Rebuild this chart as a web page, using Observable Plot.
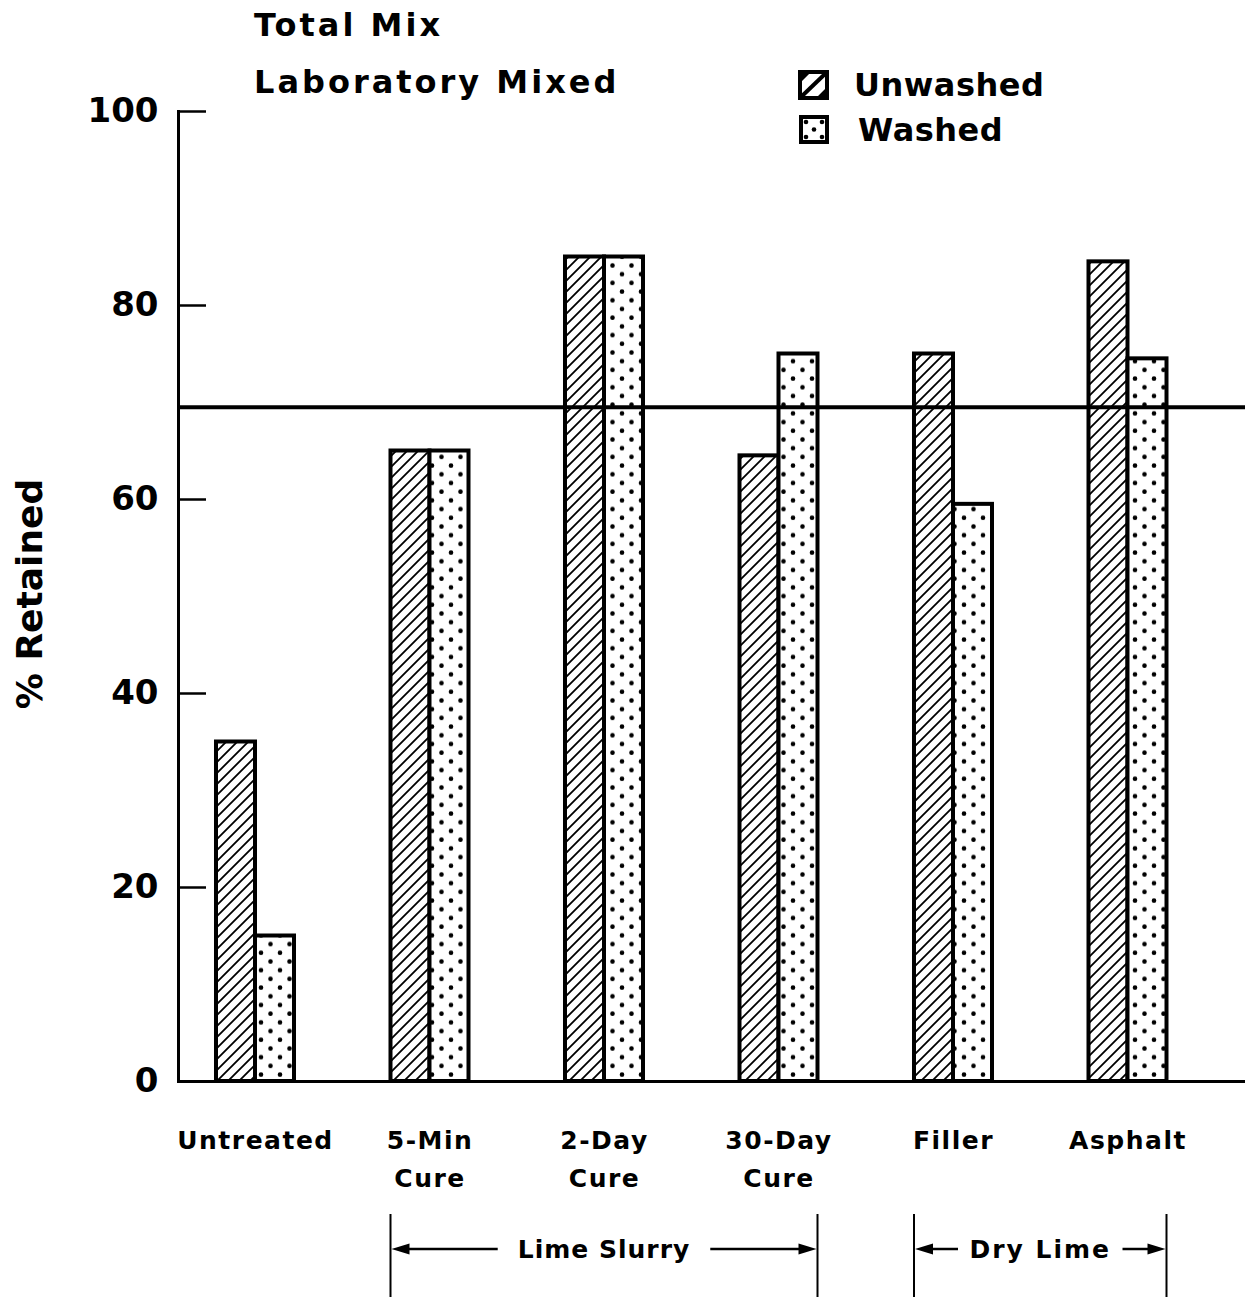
<!DOCTYPE html>
<html>
<head>
<meta charset="utf-8">
<script src="https://cdn.jsdelivr.net/npm/d3@7"></script>
<script src="https://cdn.jsdelivr.net/npm/@observablehq/plot@0.6"></script>
<style>
  html, body { margin: 0; padding: 0; background: #fff; overflow: hidden; }
  #wrap { width: 1248px; height: 1297px; position: relative; }
  #wrap svg { display: block; }
  g[aria-label="x-axis tick label"] text { letter-spacing: 1.5px; }
</style>
</head>
<body>
<div id="wrap"></div>
<script>
// ---- data ----
const categories = ["Untreated", "5-Min\nCure", "2-Day\nCure", "30-Day\nCure", "Filler", "Asphalt"];
const unwashed = [35, 65, 85, 64.5, 75, 84.5];
const washed = [15, 65, 85, 75, 59.5, 74.5];
const yTicks = [0, 20, 40, 60, 80, 100];
const threshold = 69.5;
const seriesNames = ["Unwashed", "Washed"];
const titleLines = ["Total Mix", "Laboratory Mixed"];
const yLabel = "% Retained";
const groupLabels = ["Lime Slurry", "Dry Lime"];
const groupFirst = ["5-Min\nCure", "Filler"];
const groupLast = ["30-Day\nCure", "Asphalt"];

const rows = categories.map((c, i) => ({category: c, unwashed: unwashed[i], washed: washed[i]}));

// ---- styles ----
const FONT = "DejaVu Sans";
const half = 39; // half of the band (each bar fills one half)
const groupLetterSpacing = ["1px", "2px"];

const chart = Plot.plot({
  width: 1248,
  height: 1297,
  marginTop: 111,
  marginBottom: 216,
  marginLeft: 178,
  marginRight: 3,
  style: {background: "white", fontFamily: FONT, color: "black", overflow: "visible"},
  x: {type: "band", domain: categories, range: [119.5, 1263], padding: 0.553, round: false},
  y: {domain: [0, 100]},
  marks: [
    Plot.barY(rows, {x: "category", y: "unwashed", insetRight: half, fill: "url(#hatch)", stroke: "black", strokeWidth: 4}),
    Plot.barY(rows, {x: "category", y: "washed", insetLeft: half, fill: "url(#dots)", stroke: "black", strokeWidth: 4}),
    Plot.ruleY([threshold], {stroke: "black", strokeWidth: 4}),
    Plot.ruleY([0], {stroke: "black", strokeWidth: 3}),
    Plot.frame({anchor: "left", stroke: "black", strokeWidth: 3}),
    Plot.axisY({ticks: yTicks, tickSize: -28, tickPadding: 48, strokeWidth: 2.5, fontSize: 34, fontWeight: "bold", label: null}),
    Plot.axisX({tickSize: 0, tickPadding: 41, fontSize: 25, fontWeight: "bold", lineHeight: 1.5, label: null})
  ]
});

document.getElementById("wrap").appendChild(chart);

const svg = d3.select(chart);
const defs = svg.insert("defs", ":first-child");

// hatch pattern (/)
const P = 11;
const ph = defs.append("pattern").attr("id", "hatch").attr("patternUnits", "userSpaceOnUse")
  .attr("width", P).attr("height", P);
ph.append("rect").attr("width", P).attr("height", P).attr("fill", "white");
ph.append("path").attr("d", `M-2,2 L2,-2 M0,${P} L${P},0 M${P - 2},${P + 2} L${P + 2},${P - 2}`)
  .attr("stroke", "black").attr("stroke-width", 1.8).attr("fill", "none");

// dot pattern
const pd = defs.append("pattern").attr("id", "dots").attr("patternUnits", "userSpaceOnUse")
  .attr("width", 19).attr("height", 17.4);
pd.append("rect").attr("width", 19).attr("height", 17.4).attr("fill", "white");
pd.append("circle").attr("cx", 4.5).attr("cy", 4.5).attr("r", 2.3).attr("fill", "black");
pd.append("circle").attr("cx", 14).attr("cy", 13.2).attr("r", 2.3).attr("fill", "black");

const ann = svg.append("g").attr("font-family", FONT).attr("font-weight", "bold")
  .attr("fill", "black").attr("text-anchor", "start");

// titles
ann.append("text").attr("x", 254).attr("y", 36).attr("font-size", 32).style("letter-spacing", "3px").text(titleLines[0]);
ann.append("text").attr("x", 254).attr("y", 93).attr("font-size", 32).style("letter-spacing", "3px").text(titleLines[1]);

// y label
ann.append("text").attr("transform", "translate(42,594) rotate(-90)").attr("text-anchor", "middle")
  .attr("font-size", 36).text(yLabel);

// legend
const lg = ann.append("g");
// Unwashed swatch
lg.append("rect").attr("x", 800).attr("y", 72).attr("width", 27).attr("height", 26)
  .attr("fill", "white").attr("stroke", "black").attr("stroke-width", 4);
lg.append("path").attr("d", "M801,97 L826,73").attr("stroke", "black").attr("stroke-width", 4);
lg.append("path").attr("d", "M801,73 L810,73 L801,82 Z M826,97 L817,97 L826,88 Z").attr("fill", "black");
lg.append("text").attr("x", 854).attr("y", 96).attr("font-size", 32).style("letter-spacing", "0.5px").text(seriesNames[0]);
// Washed swatch
lg.append("rect").attr("x", 801).attr("y", 117).attr("width", 26).attr("height", 25)
  .attr("fill", "white").attr("stroke", "black").attr("stroke-width", 4);
[[806,122],[822,122],[814,129.5],[806,137],[822,137]].forEach(([cx, cy]) =>
  lg.append("circle").attr("cx", cx).attr("cy", cy).attr("r", 2.3).attr("fill", "black"));
lg.append("text").attr("x", 858).attr("y", 141).attr("font-size", 32).style("letter-spacing", "0.5px").text(seriesNames[1]);

// group brackets below the axis
const xs = chart.scale("x");
const bw = xs.bandwidth;
const arrowY = 1249, head = 18;
groupLabels.forEach((lab, i) => {
  const x0 = xs.apply(groupFirst[i]);
  const x1 = xs.apply(groupLast[i]) + bw;
  const mid = (x0 + x1) / 2;
  ann.append("line").attr("x1", x0).attr("x2", x0).attr("y1", 1214).attr("y2", 1297)
    .attr("stroke", "black").attr("stroke-width", 2);
  ann.append("line").attr("x1", x1).attr("x2", x1).attr("y1", 1214).attr("y2", 1297)
    .attr("stroke", "black").attr("stroke-width", 2);
  const t = ann.append("text").attr("x", mid).attr("y", arrowY + 9).attr("text-anchor", "middle")
    .attr("font-size", 25).style("letter-spacing", groupLetterSpacing[i]).text(lab);
  const tw = t.node().getComputedTextLength();
  const gap = Math.max(3, Math.min(20, (x1 - x0 - tw) / 2 - 44));
  const lEnd = mid - tw / 2 - gap;
  const rStart = mid + tw / 2 + gap;
  ann.append("line").attr("x1", x0 + head - 2).attr("x2", lEnd).attr("y1", arrowY).attr("y2", arrowY)
    .attr("stroke", "black").attr("stroke-width", 2.5);
  ann.append("path").attr("d", `M${x0 + 1},${arrowY} L${x0 + 1 + head},${arrowY - 5.5} L${x0 + 1 + head},${arrowY + 5.5} Z`);
  ann.append("line").attr("x1", rStart).attr("x2", x1 - head + 2).attr("y1", arrowY).attr("y2", arrowY)
    .attr("stroke", "black").attr("stroke-width", 2.5);
  ann.append("path").attr("d", `M${x1 - 1},${arrowY} L${x1 - 1 - head},${arrowY - 5.5} L${x1 - 1 - head},${arrowY + 5.5} Z`);
});
</script>
</body>
</html>
